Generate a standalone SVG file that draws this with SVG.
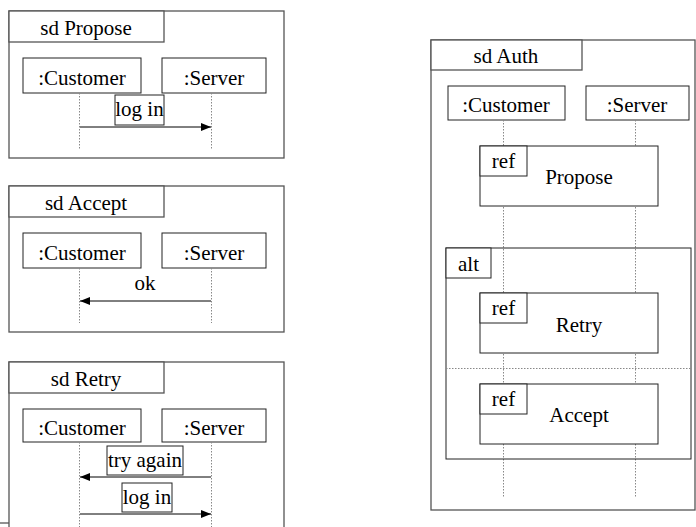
<svg xmlns="http://www.w3.org/2000/svg" width="696" height="527" viewBox="0 0 696 527" font-family="'Liberation Serif', 'DejaVu Serif', serif">
<defs>
<style>
text{font-family:'Liberation Serif','DejaVu Serif',serif;font-size:21px;fill:#000;text-anchor:middle}
.frame{fill:#fff;stroke:#555;stroke-width:1.3}
.box{fill:#fff;stroke:#222;stroke-width:1}
.life{stroke:#888;stroke-width:1;stroke-dasharray:1.5 1.5;fill:none}
.msg{stroke:#000;stroke-width:1;fill:none}
</style>
<marker id="ah" viewBox="0 0 10 8" refX="10" refY="4" markerWidth="10" markerHeight="8" markerUnits="userSpaceOnUse" orient="auto">
<path d="M0,0 L10,4 L0,8 Z" fill="#000"/>
</marker>
</defs>

<!-- sd Propose -->
<g id="sdPropose">
<rect class="frame" x="9" y="11" width="275" height="147"/>
<rect class="frame" x="9" y="11" width="155" height="31"/>
<text x="86" y="35">sd Propose</text>
<rect class="box" x="23" y="58" width="118" height="35"/>
<text x="82" y="85">:Customer</text>
<rect class="box" x="162" y="58" width="104" height="35"/>
<text x="214" y="85">:Server</text>
</g>
<!-- sd Accept -->
<g id="sdAccept">
<rect class="frame" x="9" y="186" width="275" height="146"/>
<rect class="frame" x="9" y="186" width="155" height="31"/>
<text x="86" y="210">sd Accept</text>
<rect class="box" x="23" y="233" width="118" height="35"/>
<text x="82" y="260">:Customer</text>
<rect class="box" x="162" y="233" width="104" height="35"/>
<text x="214" y="260">:Server</text>
</g>
<!-- sd Retry -->
<g id="sdRetry">
<rect class="frame" x="9" y="362" width="275" height="200"/>
<rect class="frame" x="9" y="362" width="155" height="31"/>
<text x="86" y="386">sd Retry</text>
<rect class="box" x="23" y="409" width="118" height="33"/>
<text x="82" y="435">:Customer</text>
<rect class="box" x="162" y="409" width="104" height="33"/>
<text x="214" y="435">:Server</text>
<line x1="0" y1="523" x2="9" y2="523" stroke="#555" stroke-width="1.3"/>
</g>
<!-- sd Auth -->
<g id="sdAuth">
<rect class="frame" x="431" y="40" width="264" height="470"/>
<rect class="frame" x="431" y="40" width="151" height="30"/>
<text x="506" y="63">sd Auth</text>
<rect class="box" x="448" y="86" width="117" height="34"/>
<text x="506" y="112">:Customer</text>
<rect class="box" x="586" y="86" width="103" height="34"/>
<text x="637" y="112">:Server</text>
</g>

<g id="connectors">
<line class="life" x1="79.5" y1="93" x2="79.5" y2="149"/>
<line class="life" x1="211.5" y1="93" x2="211.5" y2="149"/>
<line class="msg" x1="80" y1="127" x2="211" y2="127" marker-end="url(#ah)"/>

<line class="life" x1="79.5" y1="268" x2="79.5" y2="323"/>
<line class="life" x1="211.5" y1="268" x2="211.5" y2="323"/>
<line class="msg" x1="211" y1="301" x2="80" y2="301" marker-end="url(#ah)"/>

<line class="life" x1="79.5" y1="442" x2="79.5" y2="527"/>
<line class="life" x1="211.5" y1="442" x2="211.5" y2="527"/>
<line class="msg" x1="211" y1="477" x2="80" y2="477" marker-end="url(#ah)"/>
<line class="msg" x1="80" y1="514" x2="211" y2="514" marker-end="url(#ah)"/>

<line class="life" x1="503.5" y1="120" x2="503.5" y2="497"/>
<line class="life" x1="635.5" y1="120" x2="635.5" y2="497"/>
</g>

<g id="labels">
<rect class="box" x="115" y="95" width="49" height="30"/>
<text x="139.5" y="116">log in</text>
<text x="145" y="290">ok</text>
<rect class="box" x="107" y="446" width="76" height="29"/>
<text x="145" y="467">try again</text>
<rect class="box" x="122" y="483" width="50" height="29"/>
<text x="147" y="504">log in</text>
</g>

<g id="refPropose">
<rect class="box" x="480" y="146" width="178" height="60"/>
<rect class="box" x="480" y="146" width="47" height="30"/>
<text x="503.5" y="168">ref</text>
<text x="579" y="184">Propose</text>
</g>
<g id="alt">
<rect x="446" y="248" width="245" height="211" fill="none" stroke="#222" stroke-width="1"/>
<rect class="box" x="446" y="248" width="45" height="30"/>
<text x="468.5" y="271">alt</text>
<line x1="446" y1="368.5" x2="691" y2="368.5" class="life"/>
</g>
<g id="refRetry">
<rect class="box" x="480" y="293" width="178" height="60"/>
<rect class="box" x="480" y="293" width="47" height="30"/>
<text x="503.5" y="315">ref</text>
<text x="579" y="332">Retry</text>
</g>
<g id="refAccept">
<rect class="box" x="480" y="384" width="178" height="60"/>
<rect class="box" x="480" y="384" width="47" height="30"/>
<text x="503.5" y="406">ref</text>
<text x="579" y="422">Accept</text>
</g>
</svg>
